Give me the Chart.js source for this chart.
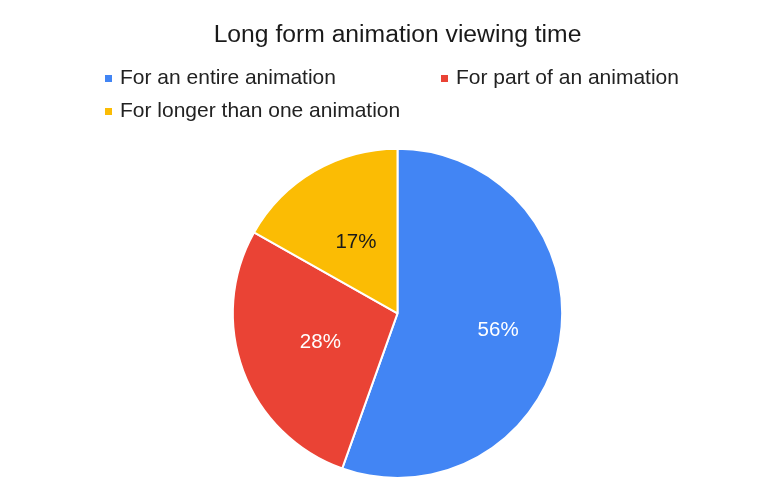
<!DOCTYPE html>
<html>
<head>
<meta charset="utf-8">
<title>Long form animation viewing time</title>
<script src="https://cdn.jsdelivr.net/npm/chart.js@4/dist/chart.umd.min.js"></script>
<style>
  html, body { margin: 0; padding: 0; background: #fff; }
  #wrap { width: 769px; height: 492px; }
</style>
</head>
<body>
<div id="wrap"><canvas id="viewChart" width="769" height="492"></canvas></div>
<script>
// Share of viewers, in percent
const categories = ['For an entire animation', 'For part of an animation', 'For longer than one animation'];
const shares = [56, 28, 17];
const sliceColors = ['#4285F4', '#EA4335', '#FBBC04'];
const labelColors = ['#ffffff', '#ffffff', '#1a1a1a'];
// how far out (fraction of radius) each percent label sits
const labelRadius = [0.62, 0.5, 0.5];

const FONT = '"Liberation Sans", Arial, Helvetica, sans-serif';

// percent text inside each slice
const sliceLabels = {
  id: 'sliceLabels',
  afterDatasetsDraw(chart) {
    const ctx = chart.ctx;
    const meta = chart.getDatasetMeta(0);
    ctx.save();
    ctx.font = '20.5px ' + FONT;
    ctx.textAlign = 'center';
    ctx.textBaseline = 'middle';
    meta.data.forEach((arc, i) => {
      const p = arc.getProps(['x', 'y', 'startAngle', 'endAngle', 'outerRadius'], true);
      const mid = (p.startAngle + p.endAngle) / 2;
      const r = p.outerRadius * labelRadius[i];
      ctx.fillStyle = labelColors[i];
      ctx.fillText(chart.data.datasets[0].data[i] + '%', p.x + Math.cos(mid) * r, p.y + Math.sin(mid) * r);
    });
    ctx.restore();
  }
};

// two-column legend under the title
const gridLegend = {
  id: 'gridLegend',
  afterDraw(chart) {
    const ctx = chart.ctx;
    const x0 = 105, colW = 336, y0 = 78.5, rowH = 33, box = 7;
    ctx.save();
    ctx.font = '21px ' + FONT;
    ctx.textBaseline = 'middle';
    chart.data.labels.forEach((label, i) => {
      const col = i % 2, row = Math.floor(i / 2);
      const x = x0 + col * colW, y = y0 + row * rowH;
      ctx.fillStyle = sliceColors[i];
      ctx.fillRect(x, y - box / 2, box, box);
      ctx.fillStyle = '#222';
      ctx.fillText(label, x + 15, y);
    });
    ctx.restore();
  }
};

new Chart(document.getElementById('viewChart'), {
  type: 'pie',
  data: {
    labels: categories,
    datasets: [{
      data: shares,
      backgroundColor: sliceColors,
      borderColor: '#ffffff',
      borderWidth: 2
    }]
  },
  options: {
    responsive: false,
    animation: false,
    layout: { padding: { left: 26, right: 0, top: 0, bottom: 13 } },
    plugins: {
      legend: { display: false },
      tooltip: { enabled: false },
      title: {
        display: true,
        text: 'Long form animation viewing time',
        color: '#1a1a1a',
        font: { family: FONT, size: 24.7, weight: 'normal', lineHeight: 1.2 },
        padding: { top: 20, bottom: 98 }
      }
    }
  },
  plugins: [sliceLabels, gridLegend]
});
</script>
</body>
</html>
